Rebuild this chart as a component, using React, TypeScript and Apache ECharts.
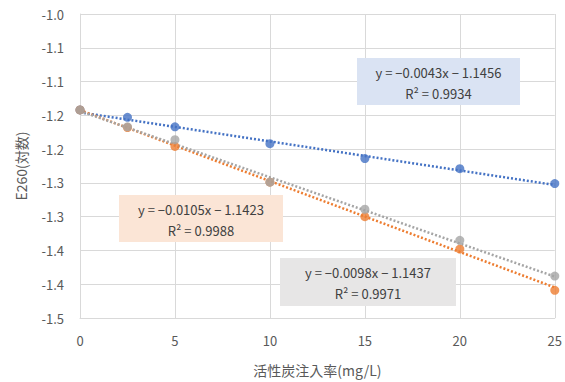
import React, { useEffect, useRef } from "react";
import * as echarts from "echarts";

const xValues = [0, 2.5, 5, 10, 15, 20, 25];
const blueValues = [-1.142, -1.153, -1.167, -1.192, -1.214, -1.229, -1.251];
const orangeValues = [-1.142, -1.168, -1.196, -1.249, -1.3, -1.348, -1.409];
const grayValues = [-1.142, -1.167, -1.186, -1.249, -1.289, -1.335, -1.388];

const yTickLabels = ["-1.0", "-1.1", "-1.1", "-1.2", "-1.2", "-1.3", "-1.3", "-1.4", "-1.4", "-1.5"];

const trendSlopes = [-0.0043, -0.0105, -0.0098];
const trendIntercepts = [-1.1456, -1.1423, -1.1437];
const trendEquations = ["y = −0.0043x − 1.1456", "y = −0.0105x − 1.1423", "y = −0.0098x − 1.1437"];
const trendR2 = ["R² = 0.9934", "R² = 0.9988", "R² = 0.9971"];

const colors = ["#4472C4", "#ED7D31", "#A5A5A5"];
const boxFills = ["#DAE3F3", "#FBE5D6", "#E7E6E6"];
const FONT = "'Noto Sans CJK JP', 'Noto Sans', sans-serif";

export default function App() {
  const ref = useRef<HTMLDivElement>(null);
  useEffect(() => {
    if (!ref.current) return;
    const chart = echarts.init(ref.current, null, { renderer: "svg" });
    const seriesValues = [blueValues, orangeValues, grayValues];
    const xMax = xValues[xValues.length - 1];

    const trendSeries = seriesValues.map((_, i) => ({
      type: "line",
      data: [
        [0, trendIntercepts[i]],
        [xMax, trendSlopes[i] * xMax + trendIntercepts[i]],
      ],
      symbol: "none",
      lineStyle: { color: colors[i], width: 2.5, type: [2, 2] },
      z: 3,
      silent: true,
    }));
    const pointSeries = seriesValues.map((vals, i) => ({
      type: "scatter",
      data: xValues.map((x, j) => [x, vals[j]]),
      symbol: "circle",
      symbolSize: 9,
      itemStyle: { color: colors[i] },
      z: 4,
    }));

    const boxes = [
      { x: 357, y: 58, w: 163, h: 47 },
      { x: 119, y: 195, w: 164, h: 47 },
      { x: 280, y: 258, w: 176, h: 48 },
    ];
    const graphics: any[] = [];
    boxes.forEach((b, i) => {
      graphics.push({
        type: "rect",
        shape: { x: b.x, y: b.y, width: b.w, height: b.h },
        style: { fill: boxFills[i] },
        z: 10,
      });
      graphics.push({
        type: "text",
        x: b.x + b.w / 2,
        y: b.y + 14,
        style: { text: trendEquations[i], fill: "#404040", font: `13px ${FONT}`, align: "center", verticalAlign: "middle" },
        z: 11,
      });
      graphics.push({
        type: "text",
        x: b.x + b.w / 2,
        y: b.y + 35,
        style: { text: trendR2[i], fill: "#404040", font: `13px ${FONT}`, align: "center", verticalAlign: "middle" },
        z: 11,
      });
    });

    chart.setOption({
      animation: false,
      backgroundColor: "#ffffff",
      grid: { left: 80, right: 10, top: 14, bottom: 63 },
      xAxis: {
        type: "value",
        min: 0,
        max: 25,
        interval: 5,
        name: "活性炭注入率(mg/L)",
        nameLocation: "middle",
        nameGap: 45,
        nameTextStyle: { color: "#595959", fontSize: 14, fontFamily: FONT },
        axisLine: { show: true, lineStyle: { color: "#D9D9D9", width: 1 } },
        axisTick: { show: false },
        axisLabel: { color: "#595959", fontSize: 13, fontFamily: FONT, margin: 16 },
        splitLine: { show: true, lineStyle: { color: "#D9D9D9", width: 1 } },
      },
      yAxis: {
        type: "value",
        min: -1.45,
        max: -1.0,
        interval: 0.05,
        name: "E260(対数)",
        nameLocation: "middle",
        nameGap: 52,
        nameTextStyle: { color: "#595959", fontSize: 14, fontFamily: FONT },
        axisLine: { show: true, lineStyle: { color: "#D9D9D9", width: 1 } },
        axisTick: { show: false },
        axisLabel: {
          color: "#595959",
          fontSize: 13,
          fontFamily: FONT,
          margin: 16,
          formatter: (v: number) => yTickLabels[Math.round((-1.0 - v) / 0.05)] ?? "",
        },
        splitLine: { show: true, lineStyle: { color: "#D9D9D9", width: 1 } },
      },
      series: [...trendSeries, ...pointSeries],
      graphic: graphics,
    });
    return () => chart.dispose();
  }, []);
  return <div ref={ref} style={{ width: 565, height: 382, position: "absolute", left: 0, top: 0 }} />;
}
